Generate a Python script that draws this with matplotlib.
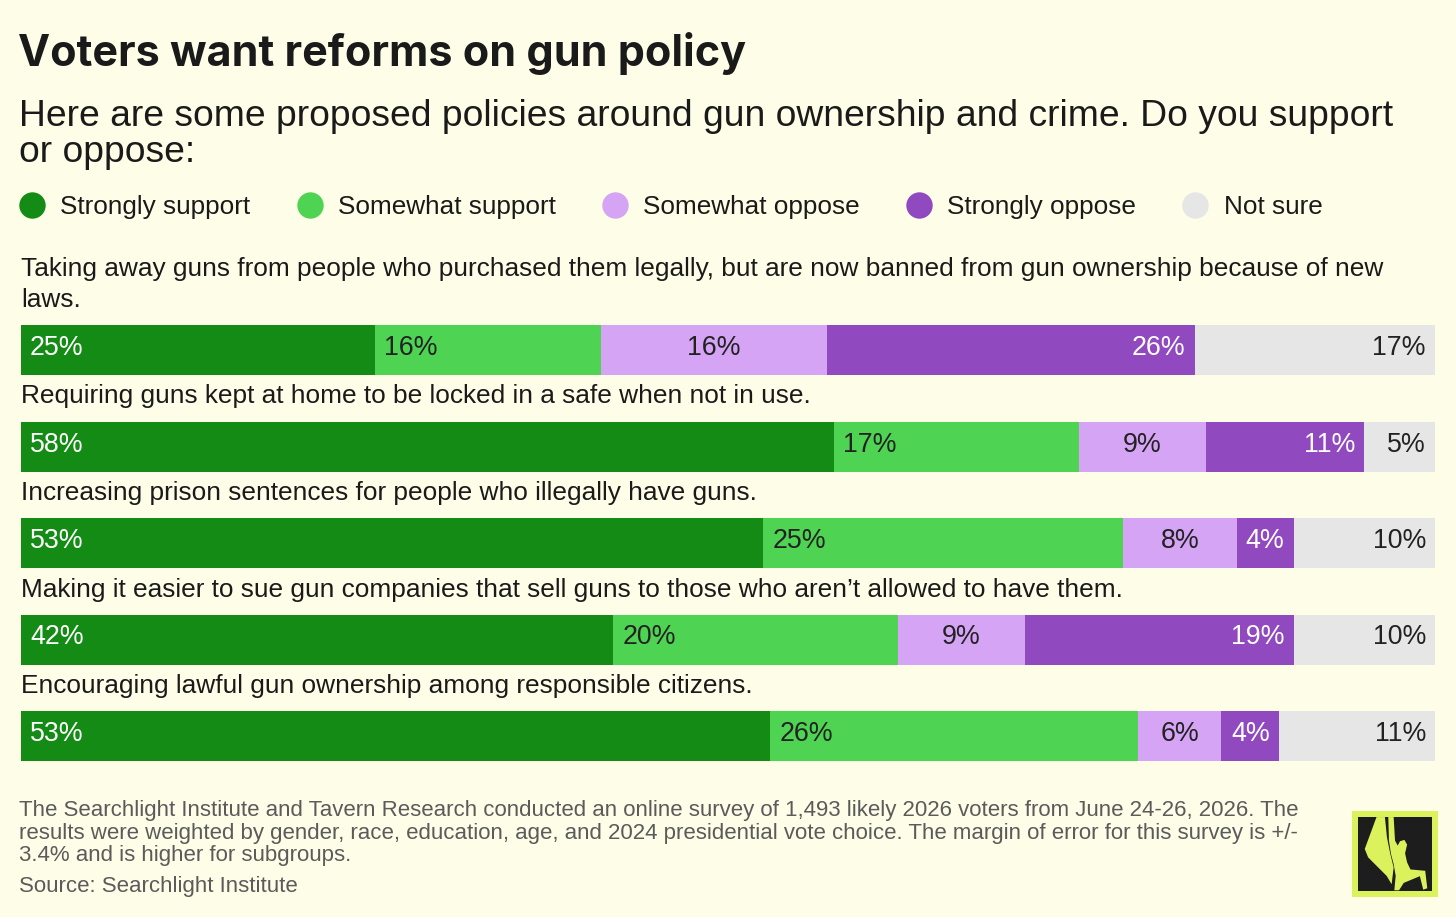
import numpy as np
import matplotlib
matplotlib.use("Agg")
import matplotlib.pyplot as plt
from matplotlib.lines import Line2D
from matplotlib.patches import Rectangle, Polygon

W, H = 1456, 917
BG = "#fdfde8"
BODY_FONT = ["Liberation Sans", "DejaVu Sans"]
TITLE_FONT = ["Inter", "DejaVu Sans"]

# --- data -----------------------------------------------------------------
categories = ["Strongly support", "Somewhat support", "Somewhat oppose",
              "Strongly oppose", "Not sure"]

questions = [
    "Taking away guns from people who purchased them legally, but are now banned from gun ownership because of new\nlaws.",
    "Requiring guns kept at home to be locked in a safe when not in use.",
    "Increasing prison sentences for people who illegally have guns.",
    "Making it easier to sue gun companies that sell guns to those who aren\u2019t allowed to have them.",
    "Encouraging lawful gun ownership among responsible citizens.",
]

# segment widths (unrounded shares)
strongly_support = [25.0, 57.5, 52.5, 41.9, 53.0]
somewhat_support = [16.0, 17.3, 25.4, 20.1, 26.0]
somewhat_oppose = [16.0, 9.0, 8.1, 9.0, 5.9]
strongly_oppose = [26.0, 11.2, 4.0, 19.0, 4.1]
not_sure = [17.0, 5.0, 10.0, 10.0, 11.0]

# printed percentages
strongly_support_lbl = [25, 58, 53, 42, 53]
somewhat_support_lbl = [16, 17, 25, 20, 26]
somewhat_oppose_lbl = [16, 9, 8, 9, 6]
strongly_oppose_lbl = [26, 11, 4, 19, 4]
not_sure_lbl = [17, 5, 10, 10, 11]

series = [strongly_support, somewhat_support, somewhat_oppose, strongly_oppose, not_sure]
series_lbl = [strongly_support_lbl, somewhat_support_lbl, somewhat_oppose_lbl,
              strongly_oppose_lbl, not_sure_lbl]

colors = ["#138b14", "#4fd353", "#d5a4f5", "#9049bf", "#e6e6e6"]
text_colors = ["white", "#222222", "#222222", "white", "#222222"]
label_align = ["left", "left", "center", "right", "right"]

footnote = ("The Searchlight Institute and Tavern Research conducted an online survey of 1,493 likely 2026 voters from June 24-26, 2026. The\n"
            "results were weighted by gender, race, education, age, and 2024 presidential vote choice. The margin of error for this survey is +/-\n"
            "3.4% and is higher for subgroups.")
source = "Source: Searchlight Institute"

# --- figure ---------------------------------------------------------------
fig = plt.figure(figsize=(W / 100, H / 100), dpi=100, facecolor=BG)


def fy(y):
    return 1 - y / H


fig.text(18 / W, fy(66), "Voters want reforms on gun policy", family=TITLE_FONT,
         fontsize=31, fontweight="bold", color="#1a1a1a", va="baseline")
fig.text(19 / W, fy(162), "Here are some proposed policies around gun ownership and crime. Do you support\nor oppose:",
         family=BODY_FONT, fontsize=26.8, color="#1a1a1a", va="baseline", linespacing=1.05)

handles = [Line2D([], [], marker="o", linestyle="none", markersize=19,
                  markerfacecolor=c, markeredgewidth=0) for c in colors]
fig.legend(handles, categories, loc="center left", bbox_to_anchor=(19 / W, fy(207)),
           ncol=5, frameon=False, handlelength=1.0, handletextpad=0.58,
           columnspacing=1.77, borderpad=0, borderaxespad=0,
           prop={"family": BODY_FONT, "size": 18.8}, labelcolor="#1a1a1a")

# bars
pitch = 96.5
bar_h = 50 / pitch
n = len(questions)
ax = fig.add_axes([21 / W, (H - 761) / H, (1435 - 21) / W, (761 - 325) / H])
ax.set_facecolor("none")
ax.set_xlim(0, 100)
ax.set_ylim(n - 1 + bar_h / 2, -bar_h / 2)
ax.axis("off")

y = np.arange(n)
left = np.zeros(n)
for vals, lbls, col, tcol, ha in zip(series, series_lbl, colors, text_colors, label_align):
    vals = np.array(vals)
    ax.barh(y, vals, left=left, height=bar_h, color=col, linewidth=0)
    for i in range(n):
        if ha == "left":
            x, dx = left[i], 9
        elif ha == "right":
            x, dx = left[i] + vals[i], -9
        else:
            x, dx = left[i] + vals[i] / 2, 0
        ax.annotate(f"{lbls[i]}%", xy=(x, y[i]), xytext=(dx, 2), textcoords="offset pixels",
                    ha=ha, va="center", color=tcol, fontsize=19.3, family=BODY_FONT)
    left += vals

for i, q in enumerate(questions):
    ax.annotate(q, xy=(0, y[i] - bar_h / 2), xytext=(0, 13), textcoords="offset pixels",
                ha="left", va="bottom", fontsize=18.9, family=BODY_FONT,
                color="#1a1a1a", linespacing=1.36, annotation_clip=False)

fig.text(19 / W, fy(861), footnote, family=BODY_FONT, fontsize=16, color="#5b5b5b",
         va="baseline", linespacing=1.09)
fig.text(19 / W, fy(892), source, family=BODY_FONT, fontsize=16, color="#5b5b5b",
         va="baseline")

# logo
lg = fig.add_axes([1352 / W, (H - 897) / H, 86 / W, 86 / H])
lg.set_xlim(0, 1)
lg.set_ylim(0, 1)
lg.axis("off")
lime = "#dcf25c"
lg.add_patch(Rectangle((0, 0), 1, 1, color=lime, linewidth=0))
lg.add_patch(Rectangle((0.07, 0.07), 0.86, 0.86, color="#1d1d1d", linewidth=0))


def logo_pts(pts):
    return [((px - 22) / 256, 1 - (py - 22) / 256) for px, py in pts]


beam = [(95, 40), (120, 40), (126, 100), (136, 150), (146, 190), (140, 240),
        (125, 215), (70, 160), (60, 135)]
arm_body = [(130, 40), (146, 40), (150, 110), (158, 125), (165, 112), (178, 108),
            (186, 122), (180, 148), (186, 175), (196, 196), (240, 200), (246, 252),
            (234, 256), (224, 216), (176, 236), (162, 258), (148, 258), (152, 215),
            (146, 180), (138, 150), (132, 110)]
lg.add_patch(Polygon(logo_pts(beam), color=lime, linewidth=0))
lg.add_patch(Polygon(logo_pts(arm_body), color=lime, linewidth=0))

fig.savefig("out.png", dpi=100, facecolor=BG)
